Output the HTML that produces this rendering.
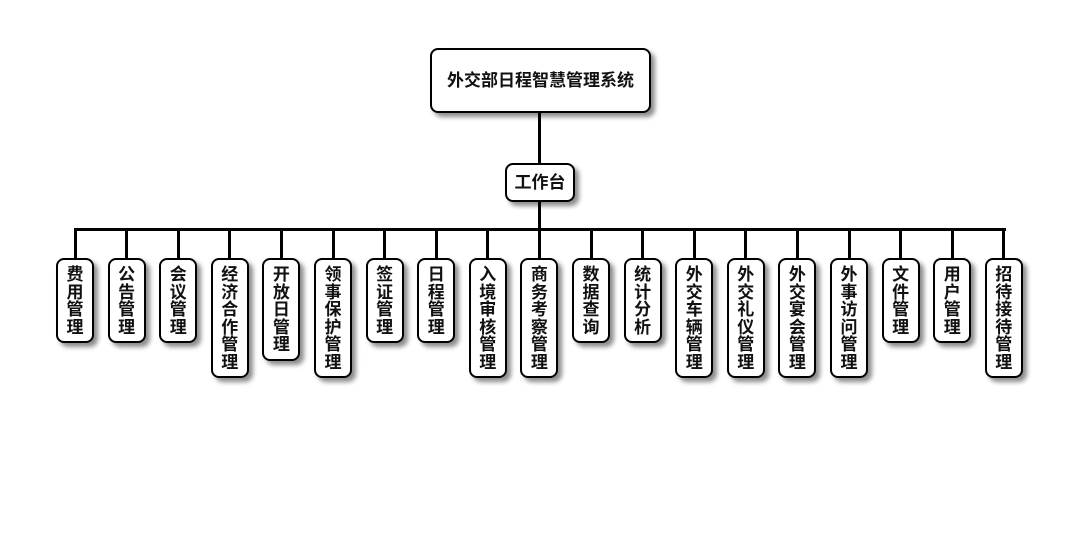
<!DOCTYPE html>
<html><head><meta charset="utf-8"><style>
body{margin:0;width:1080px;height:560px;background:#fff;position:relative;overflow:hidden;font-family:"Liberation Sans","Noto Sans CJK SC",sans-serif;}
.b{position:absolute;background:#fff;border:2px solid #000;border-radius:8px;box-sizing:border-box;box-shadow:4px 4px 5px rgba(0,0,0,.45);font-weight:bold;color:#111;text-align:center;}
.c{width:38px;top:258px;font-size:17px;line-height:17.5px;padding-top:6px;}
.l{position:absolute;background:#000;}
</style></head><body>
<div class="l" style="left:538px;top:112px;width:3px;height:52px"></div>
<div class="l" style="left:538px;top:201px;width:3px;height:30px"></div>
<div class="l" style="left:74px;top:228px;width:932px;height:3px"></div>
<div class="b" style="left:430px;top:48px;width:221px;height:65px;line-height:61px;font-size:17px">外交部日程智慧管理系统</div>
<div class="b" style="left:505px;top:163px;width:70px;height:39px;line-height:35px;font-size:17px">工作台</div>
<div id="k"></div>
<script>
var n=["费用管理","公告管理","会议管理","经济合作管理","开放日管理","领事保护管理","签证管理","日程管理","入境审核管理","商务考察管理","数据查询","统计分析","外交车辆管理","外交礼仪管理","外交宴会管理","外事访问管理","文件管理","用户管理","招待接待管理"];
var h="";
for(var i=0;i<n.length;i++){var cx=75+i*51.6;var t=n[i];
h+='<div class="l" style="left:'+(cx-1.5)+'px;top:229px;width:3px;height:30px"></div>';
h+='<div class="b c" style="left:'+(cx-19)+'px;height:'+(15+t.length*17.5)+'px">'+t.split("").join("<br>")+'</div>';}
document.getElementById("k").innerHTML=h;
</script>
</body></html>
